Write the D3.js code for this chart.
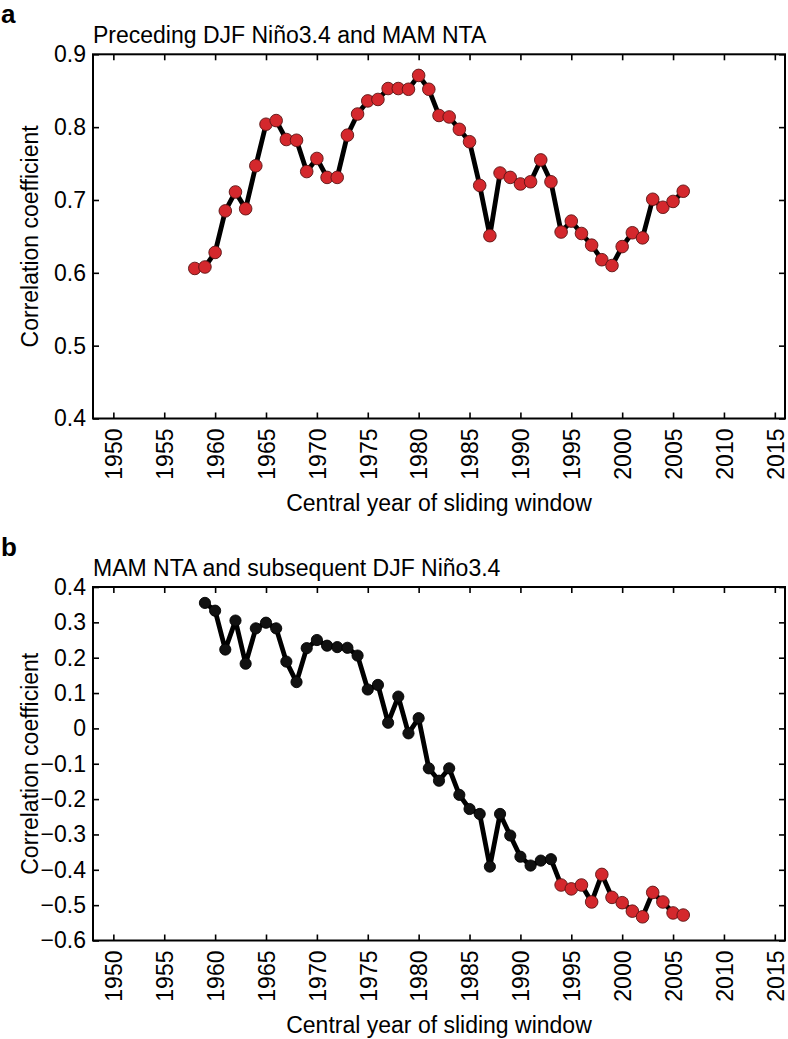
<!DOCTYPE html>
<html>
<head>
<meta charset="utf-8">
<script src="https://cdn.jsdelivr.net/npm/d3@7"></script>
<style>
  html, body { margin: 0; padding: 0; background: #fff; }
  svg { display: block; }
  text { font-family: "Liberation Sans", Arial, Helvetica, sans-serif; fill: #000; }
</style>
</head>
<body>
<svg id="chart" width="788" height="1039"></svg>
<script>
// ---- Data ----
const xTicks = [1950, 1955, 1960, 1965, 1970, 1975, 1980, 1985, 1990, 1995, 2000, 2005, 2010, 2015];

const yearsA = [1958, 1959, 1960, 1961, 1962, 1963, 1964, 1965, 1966, 1967, 1968, 1969, 1970, 1971, 1972,
  1973, 1974, 1975, 1976, 1977, 1978, 1979, 1980, 1981, 1982, 1983, 1984, 1985, 1986, 1987, 1988, 1989,
  1990, 1991, 1992, 1993, 1994, 1995, 1996, 1997, 1998, 1999, 2000, 2001, 2002, 2003, 2004, 2005, 2006];
const corrA = [0.606, 0.608, 0.628, 0.685, 0.711, 0.688, 0.747, 0.804, 0.809, 0.783, 0.782, 0.739, 0.757, 0.731, 0.731,
  0.789, 0.818, 0.836, 0.838, 0.853, 0.853, 0.852, 0.871, 0.852, 0.816, 0.814, 0.797, 0.780, 0.720, 0.651, 0.737, 0.731,
  0.722, 0.725, 0.755, 0.725, 0.656, 0.671, 0.654, 0.638, 0.618, 0.610, 0.636, 0.655, 0.648, 0.701, 0.690, 0.698, 0.712];
const yTicksA = [0.4, 0.5, 0.6, 0.7, 0.8, 0.9];

const yearsB = [1959, 1960, 1961, 1962, 1963, 1964, 1965, 1966, 1967, 1968, 1969, 1970, 1971, 1972,
  1973, 1974, 1975, 1976, 1977, 1978, 1979, 1980, 1981, 1982, 1983, 1984, 1985, 1986, 1987, 1988, 1989,
  1990, 1991, 1992, 1993, 1994, 1995, 1996, 1997, 1998, 1999, 2000, 2001, 2002, 2003, 2004, 2005, 2006];
const corrB = [0.355, 0.333, 0.223, 0.305, 0.183, 0.283, 0.299, 0.283, 0.189, 0.131, 0.227, 0.250, 0.234, 0.230,
  0.228, 0.206, 0.110, 0.123, 0.016, 0.090, -0.014, 0.029, -0.113, -0.148, -0.113, -0.188, -0.228, -0.242, -0.391, -0.242, -0.303,
  -0.363, -0.388, -0.374, -0.370, -0.443, -0.454, -0.443, -0.491, -0.413, -0.478, -0.493, -0.517, -0.533, -0.464, -0.491, -0.522, -0.528];
const yTicksB = [-0.6, -0.5, -0.4, -0.3, -0.2, -0.1, 0, 0.1, 0.2, 0.3, 0.4];

const sigThreshold = 0.4; // |r| above this drawn in red

const panels = [
  { letter: "a", title: "Preceding DJF Niño3.4 and MAM NTA", years: yearsA, values: corrA,
    yDomain: [0.4, 0.9], yTicks: yTicksA, top: 54.3, bottom: 418.5 },
  { letter: "b", title: "MAM NTA and subsequent DJF Niño3.4", years: yearsB, values: corrB,
    yDomain: [-0.6, 0.4], yTicks: yTicksB, top: 587, bottom: 940.5 }
];

const xLabel = "Central year of sliding window";
const yLabel = "Correlation coefficient";

// ---- Drawing ----
const svg = d3.select("#chart");
svg.append("rect").attr("width", 788).attr("height", 1039).attr("fill", "#fff");

const left = 93, right = 785;
const FS = 23;
const fmt = d => (Math.abs(d) < 1e-9 ? "0" : d3.format(".1f")(d));

panels.forEach(p => {
  const x = d3.scaleLinear().domain([1948, 2016]).range([left, right]);
  const y = d3.scaleLinear().domain(p.yDomain).range([p.bottom, p.top]);
  const g = svg.append("g");

  // panel letter & title
  g.append("text").attr("x", 1).attr("y", p.top - 31)
    .style("font-size", "26px").style("font-weight", "bold").text(p.letter);
  g.append("text").attr("x", left).attr("y", p.top - 11)
    .style("font-size", FS + "px").text(p.title);

  // bottom axis
  const xb = g.append("g").attr("transform", `translate(0,${p.bottom})`)
    .call(d3.axisBottom(x).tickValues(xTicks).tickSize(-6).tickSizeOuter(0).tickFormat(d3.format("d")));
  xb.select(".domain").remove();
  xb.selectAll("line").attr("stroke", "#000").attr("stroke-width", 1.6);
  xb.selectAll("text")
    .attr("x", 0).attr("y", 0).attr("dy", "0.36em")
    .attr("transform", "translate(0,10) rotate(-90)")
    .style("text-anchor", "end").style("font-size", FS + "px")
    .style("font-family", '"Liberation Sans", Arial, sans-serif').attr("fill", "#000");

  // top axis (ticks only)
  const xt = g.append("g").attr("transform", `translate(0,${p.top})`)
    .call(d3.axisTop(x).tickValues(xTicks).tickSize(-6).tickSizeOuter(0).tickFormat(""));
  xt.select(".domain").remove();
  xt.selectAll("line").attr("stroke", "#000").attr("stroke-width", 1.6);

  // left axis
  const yl = g.append("g").attr("transform", `translate(${left},0)`)
    .call(d3.axisLeft(y).tickValues(p.yTicks).tickSize(-6).tickSizeOuter(0).tickPadding(7).tickFormat(fmt));
  yl.select(".domain").remove();
  yl.selectAll("line").attr("stroke", "#000").attr("stroke-width", 1.6);
  yl.selectAll("text").style("font-size", FS + "px")
    .style("font-family", '"Liberation Sans", Arial, sans-serif').attr("fill", "#000");

  // right axis (ticks only)
  const yr = g.append("g").attr("transform", `translate(${right},0)`)
    .call(d3.axisRight(y).tickValues(p.yTicks).tickSize(-6).tickSizeOuter(0).tickFormat(""));
  yr.select(".domain").remove();
  yr.selectAll("line").attr("stroke", "#000").attr("stroke-width", 1.6);

  // frame
  g.append("rect").attr("x", left).attr("y", p.top)
    .attr("width", right - left).attr("height", p.bottom - p.top)
    .attr("fill", "none").attr("stroke", "#000").attr("stroke-width", 2);

  // axis labels
  g.append("text").attr("x", (left + right) / 2).attr("y", p.bottom + 92.5)
    .attr("text-anchor", "middle").style("font-size", FS + "px").text(xLabel);
  g.append("text")
    .attr("transform", `translate(37.5,${(p.top + p.bottom) / 2}) rotate(-90)`)
    .attr("text-anchor", "middle").style("font-size", FS + "px").text(yLabel);

  // data
  const pts = p.years.map((yr, i) => ({ year: yr, v: p.values[i] }));
  const line = d3.line().x(d => x(d.year)).y(d => y(d.v));
  g.append("path").datum(pts).attr("d", line)
    .attr("fill", "none").attr("stroke", "#000").attr("stroke-width", 4.8)
    .attr("stroke-linejoin", "round").attr("stroke-linecap", "round");

  g.selectAll("circle.pt").data(pts).join("circle")
    .attr("class", "pt")
    .attr("cx", d => x(d.year)).attr("cy", d => y(d.v))
    .attr("r", d => Math.abs(d.v) >= sigThreshold ? 6.3 : 5.6)
    .attr("fill", d => Math.abs(d.v) >= sigThreshold ? "#d4282d" : "#111")
    .attr("stroke", d => Math.abs(d.v) >= sigThreshold ? "#5a1414" : "#000")
    .attr("stroke-width", 0.9);
});
</script>
</body>
</html>
